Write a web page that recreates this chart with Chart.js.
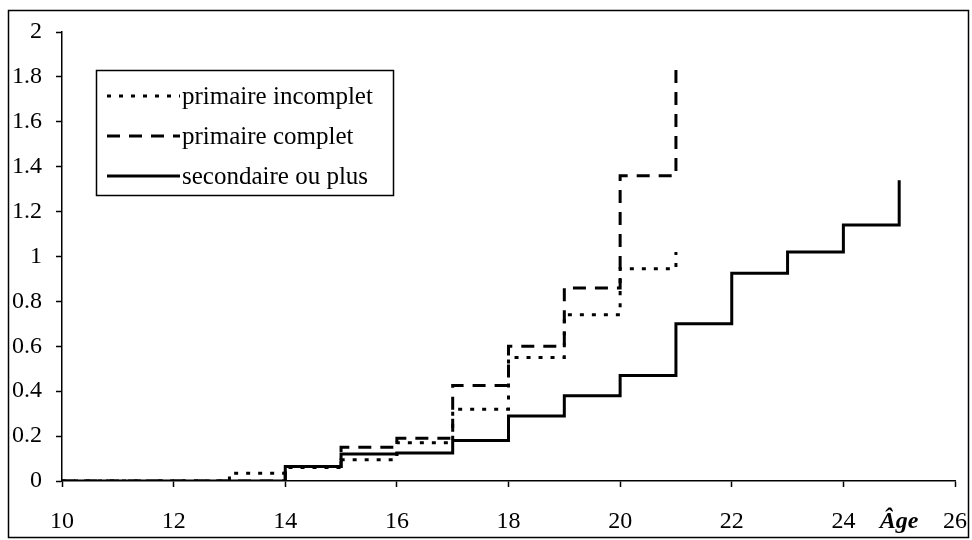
<!DOCTYPE html>
<html>
<head>
<meta charset="utf-8">
<script src="https://cdn.jsdelivr.net/npm/chart.js@4"></script>
<style>
  html, body { margin: 0; padding: 0; background: #fff; }
  canvas { display: block; }
</style>
</head>
<body>
<canvas id="ageChart" width="972" height="540"></canvas>
<script>
// values (step starts at each age)
const agesIncomplet = [10, 11, 12, 13, 14, 15, 16, 17, 18, 19, 20, 21];
const primaireIncomplet = [0, 0, 0, 0.035, 0.06, 0.095, 0.17, 0.32, 0.55, 0.74, 0.945, 1.02];

const agesComplet = [10, 11, 12, 13, 14, 15, 16, 17, 18, 19, 20, 21];
const primaireComplet = [0, 0, 0, 0, 0.065, 0.15, 0.19, 0.425, 0.60, 0.86, 1.36, 1.86];

const agesSecondaire = [10, 11, 12, 13, 14, 15, 16, 17, 18, 19, 20, 21, 22, 23, 24, 25];
const secondaireOuPlus = [0, 0, 0, 0, 0.065, 0.12, 0.125, 0.18, 0.29, 0.38, 0.47, 0.70, 0.925, 1.02, 1.14, 1.34];

const seriesLabels = ["primaire incomplet", "primaire complet", "secondaire ou plus"];
const xTickValues = [10, 12, 14, 16, 18, 20, 22, 24, 25, 26];
const ageTick = 25;
const ageLabel = "Âge";

const serif = "'Liberation Serif', 'Times New Roman', serif";

function toPoints(xs, ys) {
  return xs.map((x, i) => ({ x: x, y: ys[i] }));
}

const datasets = [
  {
    label: seriesLabels[0],
    data: toPoints(agesIncomplet, primaireIncomplet),
    borderColor: "#000",
    borderWidth: 3,
    borderDash: [4, 8],
  },
  {
    label: seriesLabels[1],
    data: toPoints(agesComplet, primaireComplet),
    borderColor: "#000",
    borderWidth: 3,
    borderDash: [13, 9],
  },
  {
    label: seriesLabels[2],
    data: toPoints(agesSecondaire, secondaireOuPlus),
    borderColor: "#000",
    borderWidth: 3,
    borderDash: [],
  },
];

// legend box and outer frame drawn on the canvas
const boxLegend = {
  id: "boxLegend",
  afterDraw(chart) {
    const ctx = chart.ctx;
    ctx.save();
    // outer frame
    ctx.strokeStyle = "#000";
    ctx.lineWidth = 1.5;
    ctx.setLineDash([]);
    ctx.strokeRect(8.5, 10.5, 960, 527);

    // legend
    ctx.lineWidth = 1.5;
    ctx.strokeRect(96.5, 70.5, 297, 125);
    ctx.font = "25px " + serif;
    ctx.fillStyle = "#000";
    ctx.textBaseline = "middle";
    ctx.textAlign = "left";
    chart.data.datasets.forEach((ds, i) => {
      const y = 96 + i * 40;
      ctx.lineWidth = ds.borderWidth;
      ctx.setLineDash(ds.borderDash);
      ctx.beginPath();
      ctx.moveTo(107, y);
      ctx.lineTo(180, y);
      ctx.stroke();
      ctx.setLineDash([]);
      ctx.fillText(ds.label, 182, y + 1);
    });
    ctx.restore();
  },
};

const config = {
  type: "line",
  data: { datasets },
  options: {
    responsive: false,
    animation: false,
    devicePixelRatio: 1,
    layout: { padding: { left: 0, top: 32, right: 17, bottom: 0 } },
    elements: {
      point: { radius: 0 },
      line: { stepped: "before", tension: 0, borderCapStyle: "butt", borderJoinStyle: "miter" },
    },
    plugins: {
      legend: { display: false },
      tooltip: { enabled: false },
    },
    scales: {
      x: {
        type: "linear",
        min: 10,
        max: 26,
        afterBuildTicks: (scale) => {
          scale.ticks = xTickValues.map((v) => ({ value: v }));
        },
        afterFit: (scale) => {
          scale.height = 59;
          scale.paddingLeft = 0;
          scale.paddingRight = 0;
        },
        ticks: {
          autoSkip: false,
          maxRotation: 0,
          padding: 20,
          color: "#000",
          callback: (v) => (v === ageTick ? ageLabel : String(v)),
          font: (c) =>
            c.tick && c.tick.value === ageTick
              ? { family: serif, size: 24, style: "italic", weight: "bold" }
              : { family: serif, size: 24 },
        },
        grid: {
          drawOnChartArea: false,
          tickLength: 6,
          tickColor: (c) => (c.tick && c.tick.value === ageTick ? "rgba(0,0,0,0)" : "#000"),
          tickWidth: 1.5,
        },
        border: { display: true, color: "#000", width: 1.5 },
      },
      y: {
        min: 0,
        max: 2,
        afterFit: (scale) => {
          scale.width = 62;
          scale.paddingTop = 0;
          scale.paddingBottom = 0;
        },
        ticks: {
          stepSize: 0.2,
          padding: 14,
          color: "#000",
          font: { family: serif, size: 24 },
          callback: (v) => String(Math.round(v * 10) / 10),
        },
        grid: {
          drawOnChartArea: false,
          tickLength: 6,
          tickColor: "#000",
          tickWidth: 1.5,
        },
        border: { display: true, color: "#000", width: 1.5 },
      },
    },
  },
  plugins: [boxLegend],
};

new Chart(document.getElementById("ageChart"), config);
</script>
</body>
</html>
